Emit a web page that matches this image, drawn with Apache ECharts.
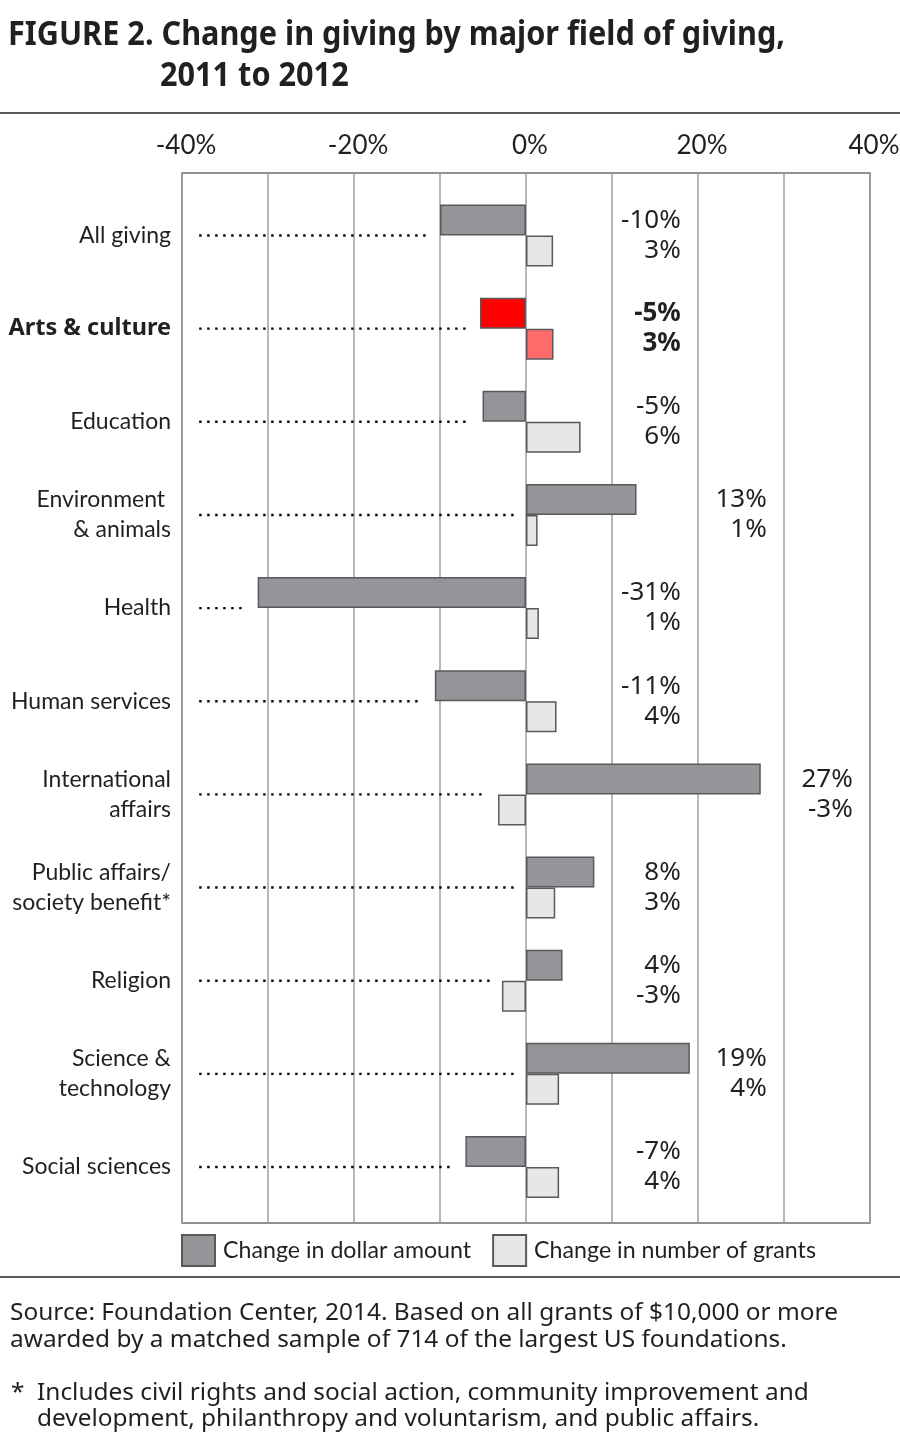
<!DOCTYPE html>
<html><head><meta charset="utf-8">
<script src="https://cdn.jsdelivr.net/npm/echarts@6/dist/echarts.min.js"></script>
<style>html,body{margin:0;padding:0;background:#fff}#c{width:900px;height:1454px}</style>
</head><body><div id="c"></div>
<script>
const categories = ['All giving','Arts & culture','Education','Environment \n& animals','Health','Human services','International\naffairs','Public affairs/\nsociety benefit*','Religion','Science &\ntechnology','Social sciences'];
const dollarChange = [-10.0, -5.35, -5.05, 12.85, -31.2, -10.6, 27.3, 7.95, 4.25, 19.05, -7.05];
const grantChange = [3.15, 3.2, 6.35, 1.35, 1.5, 3.55, -3.25, 3.4, -2.8, 3.85, 3.85];
const dollarLabels = ['-10%','-5%','-5%','13%','-31%','-11%','27%','8%','4%','19%','-7%'];
const grantLabels = ['3%','3%','6%','1%','1%','4%','-3%','3%','-3%','4%','4%'];
const tickValues = [-40, -20, 0, 20, 40];
const tickLabels = ['-40%','-20%','0%','20%','40%'];
const seriesNames = ['Change in dollar amount','Change in number of grants'];
const highlightIndex = 1;

const TXT = '#231f20';
const mctx = document.createElement('canvas').getContext('2d');
function measure(text, font){ mctx.font = font; return mctx.measureText(text).width; }

const titleFont = 'bold 34px "Noto Sans"';
const titleScale = 777 / measure('FIGURE 2. Change in giving by major field of giving,', titleFont);
const srcFont = '24px "Noto Sans"';
const srcScale = 828 / measure('Source: Foundation Center, 2014. Based on all grants of $10,000 or more', srcFont);

function gText(text, x, y, fontSize, weight, scale){
  return {type:'text', x:x, y:y, scaleX:scale, style:{text:text, x:0, y:0, fontFamily:'Noto Sans', fontSize:fontSize, fontWeight:weight, fill:TXT, align:'left', verticalAlign:'middle'}};
}

const dollarData = dollarChange.map((v,i)=> i===highlightIndex ? {value:v, itemStyle:{color:'#ff0000'}} : v);
const grantData = grantChange.map((v,i)=> i===highlightIndex ? {value:v, itemStyle:{color:'#ff6b6b'}} : v);
const customData = categories.map((c,i)=>[i, dollarChange[i], grantChange[i]]);

const chart = echarts.init(document.getElementById('c'), null, {renderer:'canvas'});
chart.setOption({
  animation:false,
  backgroundColor:'#fff',
  graphic:[
    gText('FIGURE 2. Change in giving by major field of giving,', 8, 35, 34, 'bold', titleScale),
    gText('2011 to 2012', 160, 76, 34, 'bold', titleScale),
    {type:'line', shape:{x1:0,y1:113,x2:900,y2:113}, style:{stroke:'#58595b', lineWidth:2}},
    {type:'line', shape:{x1:0,y1:1277,x2:900,y2:1277}, style:{stroke:'#58595b', lineWidth:2}},
    gText('Source: Foundation Center, 2014. Based on all grants of $10,000 or more', 10, 1313, 24, 'normal', srcScale),
    gText('awarded by a matched sample of 714 of the largest US foundations.', 10, 1340, 24, 'normal', srcScale),
    gText('*', 11, 1393, 24, 'normal', srcScale),
    gText('Includes civil rights and social action, community improvement and', 37, 1393, 24, 'normal', srcScale),
    gText('development, philanthropy and voluntarism, and public affairs.', 37, 1419, 24, 'normal', srcScale)
  ],
  legend:{left:181, top:1234, padding:0, itemWidth:33, itemHeight:31, itemGap:21, icon:'rect', selectedMode:false,
    textStyle:{fontFamily:'Lato', fontSize:23.2, color:TXT, padding:[0,0,0,3]}, data:seriesNames},
  grid:[
    {left:182, top:173, width:688, height:1050, show:true, borderColor:'#6d6e71', borderWidth:1.5, containLabel:false, outerBoundsMode:'none'},
    {left:182, top:188.9, width:688, height:1024.65, containLabel:false, outerBoundsMode:'none'}
  ],
  xAxis:[
    {gridIndex:0, type:'value', min:-40, max:40, interval:10, position:'top',
      axisLine:{show:false}, axisTick:{show:false},
      splitLine:{show:true, lineStyle:{color:'#9d9fa2', width:1.5}},
      axisLabel:{margin:14, padding:[0,0,0,8], fontFamily:'Lato', fontSize:26, color:TXT,
        formatter:function(v){ const k = tickValues.indexOf(v); return k>=0 ? tickLabels[k] : ''; }}},
    {gridIndex:1, type:'value', min:-40, max:40, show:false}
  ],
  yAxis:[
    {gridIndex:0, type:'value', min:0, max:1, show:false},
    {gridIndex:1, type:'category', inverse:true, data:categories,
      axisLine:{show:false}, axisTick:{show:false}, splitLine:{show:false},
      axisLabel:{margin:11, fontFamily:'Lato', fontSize:23, lineHeight:30, color:TXT,
        formatter:function(v,i){ return i===highlightIndex ? '{b|'+v+'}' : v; },
        rich:{b:{fontFamily:'Noto Sans', fontSize:23.5, fontWeight:'bold', color:TXT}}}}
  ],
  series:[
    {name:seriesNames[0], type:'bar', xAxisIndex:1, yAxisIndex:1, data:dollarData, barWidth:31, barGap:'0%',
      itemStyle:{color:'#939598', borderColor:'#58595b', borderWidth:1.5}, emphasis:{disabled:true}, silent:true},
    {name:seriesNames[1], type:'bar', xAxisIndex:1, yAxisIndex:1, data:grantData, barWidth:31, barGap:'0%',
      itemStyle:{color:'#e6e7e8', borderColor:'#58595b', borderWidth:1.5}, emphasis:{disabled:true}, silent:true},
    {type:'custom', xAxisIndex:1, yAxisIndex:1, data:customData, encode:{x:1, y:0}, silent:true, z:5,
      renderItem:function(params, api){
        const i = api.value(0), d = api.value(1), g = api.value(2);
        const y = api.coord([0, i])[1];
        const x0 = api.coord([-38, i])[0];
        const x1 = api.coord([Math.min(d, g, 0) - 1.4, i])[0];
        const lx = api.coord([(Math.floor(Math.max(d,0)/10)+2)*10 - 2, i])[0];
        return {type:'group', children:[
          {type:'line', shape:{x1:x0, y1:y, x2:x1, y2:y}, style:{stroke:'#000', lineWidth:2.4, lineDash:[2.4,5.6]}},
          {type:'text', style:{text:dollarLabels[i]+'\n'+grantLabels[i], x:lx, y:y, align:'right', verticalAlign:'middle',
            fontFamily:'Noto Sans', fontSize:26, lineHeight:30, fontWeight:i===highlightIndex?'bold':'normal', fill:TXT}}
        ]};
      }}
  ]
});
</script></body></html>
